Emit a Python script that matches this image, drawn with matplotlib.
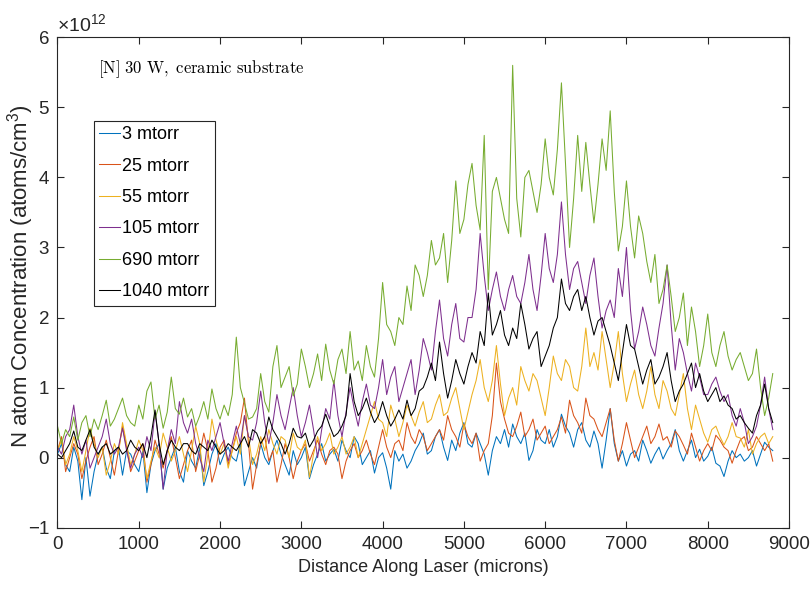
import numpy as np
import matplotlib
matplotlib.use("Agg")
import matplotlib.pyplot as plt

plt.rcParams["font.family"] = ["Liberation Sans", "DejaVu Sans"]
plt.rcParams["mathtext.fontset"] = "custom"
plt.rcParams["mathtext.rm"] = "Liberation Sans"
plt.rcParams["mathtext.default"] = "regular"

# distance along laser (microns), sampled every 50 um
distance = np.arange(0, 8850, 50)

# N atom concentration in units of 1e12 atoms/cm^3
n_3 = [0.05, 0.2, -0.1, -0.2, 0.15, -0.05, -0.6, 0.0, -0.55, -0.2, 0.05, 0.15, -0.15, -0.3, 0.1, 0.15, -0.25, 0.1, 0.05, -0.1,
       -0.2, 0.1, -0.5, -0.1, 0.1, 0.2, -0.45, -0.15, 0.0, 0.15, -0.2, -0.35, 0.1, -0.05, -0.15, 0.15, -0.4, -0.2, 0.05, 0.2,
       -0.1, 0.05, 0.15, 0.0, -0.05, 0.2, -0.4, -0.2, 0.0, -0.15, 0.2, 0.0, -0.1, 0.1, 0.25, 0.05, -0.1, -0.25, 0.1, -0.1,
       0.0, 0.15, -0.3, -0.1, 0.05, 0.2, -0.05, 0.05, 0.12, -0.05, 0.25, 0.1, 0.0, 0.3, 0.2, -0.1, 0.0, 0.1, -0.22, 0.0,
       0.07, -0.15, -0.45, 0.1, -0.05, 0.05, -0.15, -0.05, 0.1, 0.2, 0.35, 0.05, 0.1, 0.3, 0.4, 0.15, -0.04, 0.25, 0.1, 0.35,
       0.5, 0.2, 0.15, 0.35, 0.2, 0.05, -0.25, 0.1, 0.3, 0.2, 0.4, 0.15, 0.48, 0.3, 0.2, 0.35, -0.04, 0.1, 0.4, 0.25,
       0.2, 0.4, 0.15, 0.3, 0.62, 0.45, 0.35, 0.15, 0.4, 0.5, 0.25, 0.15, 0.38, 0.2, -0.15, 0.25, 0.7, 0.2, -0.05, 0.1,
       -0.12, 0.05, 0.1, -0.05, 0.25, 0.1, -0.08, 0.05, 0.15, -0.02, 0.1, 0.2, 0.4, 0.1, -0.05, 0.1, 0.25, 0.0, 0.12, -0.05,
       0.02, 0.15, -0.08, -0.12, -0.27, -0.05, 0.1, 0.0, 0.05, -0.05, 0.0, 0.1, -0.12, 0.05, 0.22, 0.15, 0.1]
n_25 = [0.1, 0.3, -0.2, 0.0, 0.2, 0.05, -0.3, -0.05, 0.15, 0.3, -0.1, 0.05, 0.25, 0.0, -0.25, 0.1, 0.45, 0.15, -0.2, -0.05,
        0.1, 0.2, -0.35, -0.1, 0.25, 0.05, -0.15, 0.1, 0.3, 0.0, -0.3, -0.1, 0.1, 0.25, -0.2, 0.05, 0.35, 0.1, -0.35, -0.15,
        0.15, 0.25, -0.1, 0.1, 0.35, 0.5, 0.85, 0.2, -0.45, -0.1, 0.2, 0.3, -0.05, 0.1, -0.35, -0.1, 0.2, 0.0, -0.3, -0.05,
        0.1, 0.2, -0.05, 0.1, 0.25, 0.05, -0.1, 0.1, 0.15, 0.05, -0.3, -0.05, 0.1, 0.2, 0.0, 0.1, 0.25, 0.05, -0.1, 0.15,
        0.4, 0.15, 0.0, 0.2, 0.25, 0.1, 0.5, 0.3, 0.2, 0.4, 0.3, 0.1, 0.2, 0.3, 0.4, 0.25, 0.6, 0.4, 0.3, 0.15,
        0.48, 0.3, 0.2, 0.35, -0.05, 0.1, 0.2, 0.6, 1.35, 0.8, 0.55, 0.35, 0.3, 0.45, 0.65, 0.3, 0.4, 0.55, 0.25, 0.35,
        0.45, 0.2, 0.3, 0.4, 0.58, 0.35, 0.82, 0.6, 0.5, 0.35, 0.85, 0.6, 0.55, 0.4, 0.3, 0.5, 0.7, 0.25, -0.05, 0.2,
        0.5, 0.25, 0.0, 0.15, 0.3, 0.45, 0.2, 0.3, 0.48, 0.25, 0.3, 0.15, 0.38, 0.3, 0.18, 0.05, 0.35, 0.15, -0.05, 0.1,
        0.2, 0.1, 0.32, 0.25, 0.15, 0.1, -0.08, 0.1, 0.25, 0.3, 0.1, 0.15, 0.3, 0.2, 0.1, 0.2, -0.05]
n_55 = [0.1, 0.25, -0.1, 0.05, 0.3, 0.1, -0.2, 0.1, 0.42, 0.2, 0.0, 0.15, -0.25, -0.05, 0.2, 0.05, 0.5, 0.2, -0.1, 0.05,
        0.25, 0.1, -0.3, -0.05, 0.15, 0.0, 0.35, 0.15, -0.05, 0.1, 0.3, 0.05, -0.2, 0.1, 0.45, 0.2, -0.35, 0.05, 0.55, 0.25,
        0.05, 0.2, -0.15, 0.1, 0.3, 0.05, 0.6, 0.3, -0.1, 0.05, 0.3, 0.1, 0.4, 0.2, 0.05, 0.3, 0.25, 0.0, 0.35, 0.15,
        0.1, 0.25, -0.28, 0.05, 0.3, 0.1, 0.2, 0.35, 0.05, 0.15, 0.3, 0.05, 0.15, 0.3, 0.0, 0.2, 0.4, 0.6, 0.8, 0.55,
        0.5, 0.3, 0.75, 0.55, 0.3, 0.5, 0.75, 0.6, 0.45, 0.65, 0.8, 0.5, 0.55, 0.75, 0.9, 0.6, 0.65, 0.85, 1.0, 0.7,
        0.4, 0.65, 0.9, 1.1, 1.4, 1.0, 0.8, 1.1, 1.6, 1.05, 0.6, 0.85, 1.0, 0.75, 1.3, 1.1, 0.95, 1.2, 1.1, 0.85,
        0.6, 1.0, 1.45, 1.2, 1.1, 1.4, 1.3, 1.0, 0.95, 1.3, 1.85, 1.3, 1.5, 1.25, 1.8, 1.4, 1.0, 1.35, 1.8, 1.2,
        0.8, 1.05, 1.25, 0.9, 0.7, 0.95, 1.3, 0.9, 0.7, 1.1, 0.95, 0.7, 0.6, 0.9, 1.2, 0.7, 0.4, 0.75, 0.55, 0.35,
        0.22, 0.4, 0.45, 0.3, 0.18, 0.3, 0.5, 0.3, 0.28, 0.15, 0.4, 0.05, 0.2, 0.3, 0.35, 0.2, 0.3]
n_105 = [0.15, 0.05, 0.3, 0.4, 0.75, 0.3, 0.05, 0.25, -0.15, 0.0, 0.15, 0.3, 0.55, 0.2, 0.05, 0.15, 0.42, 0.1, -0.15, 0.05,
         0.15, 0.0, 0.3, 0.1, 0.65, 0.2, -0.45, 0.1, 0.4, 0.2, 0.8, 0.5, 0.35, 0.55, 0.2, 0.0, -0.2, 0.25, 0.1, 0.3,
         0.5, 0.2, -0.05, 0.2, 0.45, 0.2, 0.6, 0.3, 0.25, 0.5, 0.95, 0.5, 0.2, 0.5, 0.9, 0.6, 0.4, 0.7, 1.0, 0.6,
         0.3, 0.5, 0.75, 0.4, 0.0, 0.4, 0.7, 0.55, 1.1, 0.6, 0.3, 0.65, 1.0, 0.7, 0.45, 0.8, 1.05, 0.75, 0.7, 1.0,
         1.4, 0.9, 1.15, 1.3, 0.8, 1.0, 1.2, 1.4, 0.9, 1.25, 1.7, 1.5, 1.25, 1.8, 2.25, 1.7, 1.45, 1.9, 2.2, 1.7,
         1.65, 2.0, 2.0, 2.4, 3.2, 2.6, 2.1, 2.4, 2.65, 2.3, 2.1, 2.4, 2.6, 2.3, 2.2, 2.5, 2.9, 2.4, 2.1, 2.6,
         3.2, 2.7, 2.5, 2.9, 3.65, 2.9, 2.4, 2.7, 2.8, 2.5, 2.2, 2.6, 2.85, 2.3, 1.85, 2.1, 2.25, 2.0, 2.7, 2.3,
         3.0, 2.1, 1.55, 1.8, 2.15, 1.9, 1.6, 1.45, 1.85, 2.2, 2.75, 1.9, 1.25, 1.7, 1.5, 1.2, 0.95, 1.35, 1.15, 0.9,
         0.9, 1.05, 1.15, 0.95, 0.8, 0.9, 0.6, 0.45, 0.7, 0.5, 0.2, 0.3, 0.45, 0.75, 1.15, 0.7, 0.4]
n_690 = [0.45, 0.2, 0.4, 0.3, 0.58, 0.25, 0.5, 0.6, 0.3, 0.55, 0.4, 0.6, 0.82, 0.45, 0.55, 0.7, 0.85, 0.6, 0.5, 0.45,
         0.75, 0.55, 0.95, 1.08, 0.55, 0.75, 0.42, 0.65, 1.15, 0.7, 0.62, 0.85, 0.58, 0.7, 0.45, 0.6, 0.8, 0.55, 0.98, 0.7,
         0.55, 0.75, 0.6, 0.9, 1.72, 1.0, 0.78, 0.55, 0.58, 0.7, 1.2, 0.8, 0.65, 1.3, 1.6, 1.0, 1.15, 1.3, 0.88, 1.05,
         1.55, 1.3, 1.0, 1.2, 1.48, 1.1, 1.62, 1.25, 1.05, 1.4, 1.55, 1.2, 1.8, 1.25, 1.38, 1.1, 1.6, 1.3, 1.15, 1.7,
         2.5, 1.9, 1.8, 1.6, 2.0, 1.9, 2.45, 2.1, 2.75, 2.6, 2.3, 2.6, 3.1, 2.75, 2.85, 3.2, 2.5, 3.1, 3.95, 3.2,
         3.4, 3.9, 4.2, 3.6, 3.25, 4.6, 2.4, 3.8, 4.0, 3.7, 3.4, 3.2, 5.6, 3.7, 3.15, 4.0, 4.1, 3.8, 3.5, 3.9,
         4.55, 4.0, 3.75, 4.4, 5.35, 4.2, 3.0, 3.7, 4.6, 3.8, 4.5, 3.9, 3.35, 3.9, 4.55, 4.1, 4.95, 3.8, 2.95, 3.3,
         3.95, 3.3, 2.85, 3.45, 3.2, 2.8, 2.5, 2.9, 2.2, 2.4, 2.75, 2.3, 1.8, 2.0, 2.35, 1.6, 2.15, 1.8, 1.3, 1.6,
         2.05, 1.5, 1.3, 1.6, 1.8, 1.45, 1.25, 1.4, 1.5, 1.3, 1.1, 1.2, 1.55, 1.0, 0.6, 0.85, 1.2]
n_1040 = [0.05, 0.0, 0.1, 0.2, 0.38, 0.15, 0.1, 0.25, 0.4, 0.15, 0.05, 0.15, 0.2, 0.05, 0.1, 0.15, 0.05, 0.1, 0.25, 0.15,
          0.1, 0.2, 0.0, 0.3, 0.68, 0.2, -0.1, 0.1, 0.25, 0.15, 0.1, 0.2, 0.2, 0.1, 0.05, 0.2, 0.15, 0.1, 0.25, 0.15,
          0.05, 0.1, 0.2, 0.15, 0.1, 0.2, 0.3, 0.15, 0.4, 0.35, 0.2, 0.3, 0.58, 0.4, 0.3, 0.2, 0.05, 0.2, 0.42, 0.3,
          0.28, 0.35, 0.15, 0.25, 0.38, 0.45, 0.62, 0.45, 0.3, 0.35, 0.45, 0.6, 1.2, 0.8, 0.6, 0.7, 0.85, 0.65, 0.5, 0.6,
          0.8, 0.6, 0.45, 0.55, 0.68, 0.55, 0.82, 0.6, 0.7, 0.95, 1.0, 1.15, 1.35, 1.1, 1.65, 1.2, 0.85, 1.1, 1.4, 1.2,
          1.05, 1.3, 1.5, 1.35, 1.8, 1.6, 2.35, 1.75, 1.9, 2.1, 1.75, 1.6, 1.85, 1.7, 2.2, 1.9, 1.55, 1.7, 1.8, 1.3,
          1.45, 1.6, 1.85, 2.0, 2.55, 2.2, 2.1, 2.3, 2.4, 2.1, 2.3, 2.0, 1.75, 1.95, 2.0, 1.8, 1.6, 1.35, 1.1, 1.5,
          1.9, 1.6, 1.55, 1.3, 1.05, 1.25, 1.4, 1.05, 1.15, 1.3, 1.5, 1.1, 0.8, 0.95, 1.05, 1.2, 1.35, 1.0, 1.2, 0.95,
          0.8, 0.9, 1.0, 0.8, 0.88, 0.75, 0.7, 0.55, 0.6, 0.5, 0.42, 0.35, 0.6, 0.75, 1.05, 0.7, 0.5]

series = [n_3, n_25, n_55, n_105, n_690, n_1040]
labels = ["3 mtorr", "25 mtorr", "55 mtorr", "105 mtorr", "690 mtorr", "1040 mtorr"]
colors = ["#0072BD", "#D95319", "#EDB120", "#7E2F8E", "#77AC30", "k"]

fig = plt.figure(figsize=(8.12, 5.97), dpi=100)
ax = fig.add_axes([0.0708, 0.1161, 0.9009, 0.8214])

for vals, lab, col in zip(series, labels, colors):
    ax.plot(distance, vals, color=col, lw=0.75, label=lab)

ax.set_xlim(0, 9000)
ax.set_ylim(-1, 6)
ax.set_xticks(np.arange(0, 9001, 1000))
ax.set_yticks(np.arange(-1, 7, 1))
ax.tick_params(direction="in", top=True, right=True, labelsize=13.5,
               length=5, width=0.8, colors="#262626", pad=6)
for sp in ax.spines.values():
    sp.set_color("#262626")
    sp.set_linewidth(0.8)

ax.set_xlabel("Distance Along Laser (microns)", fontsize=13, color="#262626",
              labelpad=4)
ax.set_ylabel("N atom Concentration (atoms/cm$^3$)", fontsize=16, color="#262626")
ax.yaxis.set_label_coords(-0.03, 0.513)

ax.text(0.0, 1.005, r"$\times$10$^{12}$", transform=ax.transAxes, fontsize=14,
        color="#262626", ha="left", va="bottom")
ax.text(0.055, 0.935, r"$\mathrm{[N]\ 30\ W,\ ceramic\ substrate}$",
        transform=ax.transAxes, fontsize=12, math_fontfamily="cm", va="center")

leg = ax.legend(loc="upper left", bbox_to_anchor=(0.05, 0.83), borderaxespad=0,
                fontsize=13, handlelength=1.15, handletextpad=0.12,
                labelspacing=0.8, fancybox=False, framealpha=1,
                edgecolor="#262626", borderpad=0.3)
leg.get_frame().set_linewidth(0.8)

fig.savefig("out.png", dpi=100)
